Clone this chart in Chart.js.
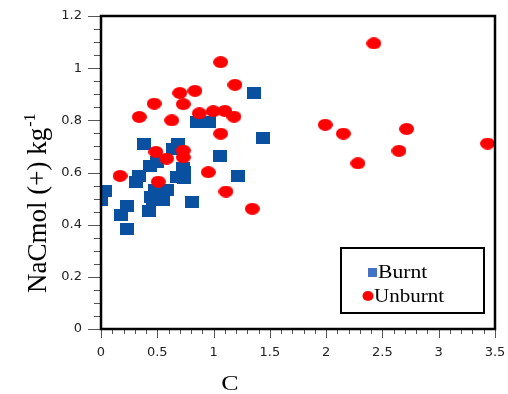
<!DOCTYPE html>
<html><head><meta charset="utf-8">
<script src="https://cdn.jsdelivr.net/npm/chart.js@4.4.0/dist/chart.umd.min.js"></script>
<style>html,body{margin:0;padding:0;background:#fff;}</style>
</head><body>
<canvas id="c" width="508" height="394"></canvas>
<script>
const burntC  = [1.356,0.855,0.959,0.385,0.681,0.642,1.436,1.057,0.435,0.494,0.335,0.308,0.731,0.672,0.74,0.74,1.22,0.036,0.0,0.228,0.178,0.234,0.444,0.426,0.48,0.583,0.553,0.805,0.465];
const burntNa = [0.905,0.792,0.795,0.708,0.709,0.690,0.731,0.662,0.625,0.642,0.587,0.565,0.616,0.584,0.578,0.603,0.587,0.529,0.495,0.472,0.437,0.383,0.507,0.452,0.533,0.533,0.495,0.488,0.495];
const unburntC  = [1.063,1.19,0.70,0.835,0.473,0.731,0.34,0.628,0.873,0.997,1.10,1.181,1.063,0.488,0.583,0.731,0.731,0.169,0.509,0.953,1.11,1.344,2.424,1.992,2.152,2.715,2.647,2.282,3.434];
const unburntNa = [1.023,0.936,0.905,0.913,0.864,0.862,0.813,0.80,0.827,0.835,0.836,0.814,0.749,0.679,0.653,0.684,0.658,0.587,0.565,0.601,0.527,0.461,1.095,0.783,0.749,0.767,0.683,0.635,0.711];
const xTicks = [0,0.5,1,1.5,2,2.5,3,3.5];
const yTicks = [0,0.2,0.4,0.6,0.8,1,1.2];
const seriesNames = ['Burnt','Unburnt'];
const xTitle = 'C';
const yTitleMain = 'NaCmol (+) kg';
const yTitleSup = '-1';

function makeRect(w,h,color){const c=document.createElement('canvas');c.width=w;c.height=h;const g=c.getContext('2d');g.fillStyle=color;g.fillRect(0,0,w,h);return c;}
function makeEllipse(w,h,color){const c=document.createElement('canvas');c.width=w;c.height=h;const g=c.getContext('2d');g.fillStyle=color;g.beginPath();g.ellipse(w/2,h/2,w/2,h/2,0,0,Math.PI*2);g.fill();return c;}
const sq = makeRect(14,12,'#0a50a0');
const ci = makeEllipse(15,12,'#ff0000');

const deco = {
  id:'deco',
  afterDraw(chart){
    const ctx=chart.ctx, a=chart.chartArea, xs=chart.scales.x, ys=chart.scales.y;
    ctx.save();
    ctx.strokeStyle='#555'; ctx.lineWidth=1;
    for(let i=0;i<=35;i++){
      const v=i/10, px=Math.round(xs.getPixelForValue(v))+0.5, L=(i%5===0)?9:5;
      ctx.beginPath(); ctx.moveTo(px,a.bottom); ctx.lineTo(px,a.bottom+L); ctx.stroke();
    }
    for(let i=0;i<=24;i++){
      const v=i/20, py=Math.round(ys.getPixelForValue(v))+0.5, L=(i%4===0)?13:7;
      ctx.beginPath(); ctx.moveTo(a.left,py); ctx.lineTo(a.left-L,py); ctx.stroke();
    }
    ctx.strokeStyle='#000'; ctx.lineWidth=2.5;
    ctx.strokeRect(a.left,a.top,a.right-a.left,a.bottom-a.top);
    ctx.lineWidth=2;
    ctx.fillStyle='#fff';
    ctx.fillRect(341,248,143,65);
    ctx.strokeRect(341,248,143,65);
    ctx.fillStyle='#4472c4'; ctx.fillRect(368,268,9,9);
    ctx.fillStyle='#ff0000'; ctx.beginPath(); ctx.ellipse(368,296,5.5,5,0,0,Math.PI*2); ctx.fill();
    ctx.fillStyle='#000'; ctx.font='18px "Liberation Serif"'; ctx.textBaseline='alphabetic'; ctx.textAlign='left';
    ctx.save(); ctx.translate(378,278); ctx.scale(1.2,1); ctx.fillText(seriesNames[0],0,0); ctx.restore();
    ctx.save(); ctx.translate(374,302); ctx.scale(1.17,1); ctx.fillText(seriesNames[1],0,0); ctx.restore();
    ctx.save(); ctx.translate(230,390); ctx.scale(1.3,1); ctx.font='20px "Liberation Serif"'; ctx.textAlign='center'; ctx.fillText(xTitle,0,0); ctx.restore();
    ctx.save(); ctx.translate(46,293); ctx.rotate(-Math.PI/2);
    ctx.font='27px "Liberation Serif"'; ctx.textAlign='left';
    ctx.fillText(yTitleMain,0,0);
    const w=ctx.measureText(yTitleMain).width;
    ctx.font='16px "Liberation Serif"'; ctx.fillText(yTitleSup,w+1,-11);
    ctx.restore();
    ctx.restore();
  }
};

new Chart(document.getElementById('c'),{
  type:'scatter',
  data:{datasets:[
    {label:seriesNames[0],data:burntC.map((v,i)=>({x:v,y:burntNa[i]})),pointStyle:sq,order:1,pointRadius:7,pointHoverRadius:7},
    {label:seriesNames[1],data:unburntC.map((v,i)=>({x:v,y:unburntNa[i]})),pointStyle:ci,order:0,pointRadius:7,pointHoverRadius:7}
  ]},
  options:{
    responsive:false, animation:false, devicePixelRatio:1,
    layout:{padding:{left:0,right:13,top:16,bottom:0}},
    plugins:{legend:{display:false},tooltip:{enabled:false}},
    scales:{
      x:{type:'linear',min:0,max:3.5,
        afterBuildTicks(s){s.ticks=xTicks.map(v=>({value:v}));},
        afterFit(s){s.height=65;s.paddingLeft=0;s.paddingRight=0;},
        grid:{display:false,drawTicks:false},border:{display:false},
        ticks:{padding:16,color:'#222',font:{family:'DejaVu Sans',size:13},callback:v=>String(v)}},
      y:{type:'linear',min:0,max:1.2,
        afterBuildTicks(s){s.ticks=yTicks.map(v=>({value:v}));},
        afterFit(s){s.width=101;s.paddingTop=0;s.paddingBottom=0;},
        grid:{display:false,drawTicks:false},border:{display:false},
        ticks:{padding:19,color:'#222',font:{family:'DejaVu Sans',size:13},callback:v=>String(v)}}
    }
  },
  plugins:[deco]
});
</script>
</body></html>
